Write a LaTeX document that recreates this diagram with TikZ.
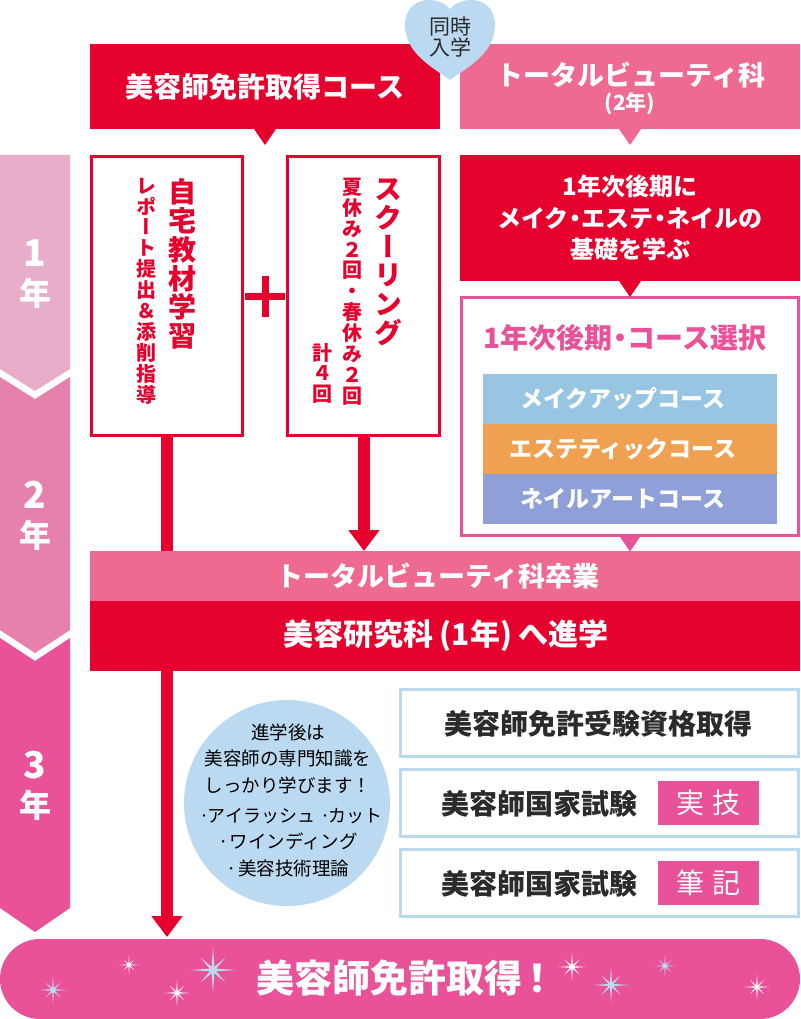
\documentclass[tikz,border=0pt]{standalone}
\usepackage{fontspec}
\usepackage{xcolor}
\usetikzlibrary{positioning,arrows.meta}
\setmainfont{Noto Sans CJK JP}
\newfontfamily\vjp[RawFeature=+vert]{Noto Sans CJK JP}
\definecolor{beniRed}{HTML}{E6002D}
\definecolor{rosePink}{HTML}{EF6A92}
\definecolor{deepPink}{HTML}{E95298}
\definecolor{midPink}{HTML}{E681AE}
\definecolor{palePink}{HTML}{E8AEC9}
\definecolor{skyBlue}{HTML}{BBDAF2}
\definecolor{makeBlue}{HTML}{97C5E2}
\definecolor{estheOrange}{HTML}{EFA050}
\definecolor{nailBlue}{HTML}{8FA0D8}
\definecolor{inkGray}{HTML}{2B2B2B}
\pgfdeclareradialshading{sparkwhite}{\pgfpointorigin}{color(0bp)=(white); color(32bp)=(white); color(50bp)=(deepPink!30!white)}
\pgfdeclareradialshading{sparkblue}{\pgfpointorigin}{color(0bp)=(skyBlue); color(32bp)=(skyBlue); color(50bp)=(deepPink!25!white)}
\newcommand{\fsize}[1]{\fontsize{#1}{#1}\selectfont}
\newcommand{\dotgap}{\kern-.23em・\kern-.23em}
\newcommand{\tail}[2]{\fill[#2] ([xshift=-11pt]#1.south) -- ([xshift=11pt]#1.south) -- ([yshift=-16pt]#1.south) -- cycle;}
\begin{document}
\begin{tikzpicture}[x=1pt,y=-1pt,
  every node/.style={inner sep=0pt, outer sep=0pt, align=center},
  head/.style={minimum height=85pt, text=white, font=\bfseries\fsize{28}},
  redbox/.style={draw=beniRed, line width=3pt, fill=white, minimum width=151pt, minimum height=279pt},
  vtitle/.style={anchor=north, text=beniRed, font={\fontsize{28}{28.7}\selectfont\vjp\bfseries}},
  vsub/.style={anchor=north, text=beniRed, font={\fontsize{20}{20.9}\selectfont\vjp\bfseries}},
  course/.style={minimum width=294pt, minimum height=50pt, text=white, font=\bfseries\fsize{23}},
  band/.style={minimum width=710pt, text=white},
  qualbox/.style={draw=skyBlue, line width=3pt, fill=white, minimum width=398pt, minimum height=67pt},
  qualtext/.style={text=inkGray, font=\bfseries\fsize{28}},
  badge/.style={fill=deepPink, minimum width=101pt, minimum height=44pt, text=white, font=\fsize{28}},
  yearlabel/.style={text=white, font={\fontsize{32}{39}\selectfont\bfseries}},
  thickline/.style={draw=beniRed, line width=12pt, -{Triangle[width=30pt,length=21pt]}},
  plusbar/.style={draw=beniRed, line width=7pt}]
  \useasboundingbox (0,0) rectangle (800,1019);

  \fill[palePink] (0,155) -- (70,155) -- (70,369) -- (35,391) -- (0,369) -- cycle;
  \fill[midPink] (0,377) -- (35,399) -- (70,377) -- (70,630) -- (35,653) -- (0,630) -- cycle;
  \fill[deepPink] (0,638) -- (35,661) -- (70,638) -- (70,908) -- (35,932) -- (0,908) -- cycle;
  \node[yearlabel] (year1) at (35,274) {{\fsize{37}1}\\年};
  \node[yearlabel] (year2) at (35,516) {{\fsize{37}2}\\年};
  \node[yearlabel] (year3) at (35,786) {{\fsize{37}3}\\年};

  \node[head, fill=beniRed, minimum width=350pt] (licenseHead) at (265,86.5) {美容師免許取得コース};
  \node[head, fill=rosePink, minimum width=340pt] (totalHead) at (630,86.5) {};
  \node[text=white, font=\bfseries\fsize{27}] (totalName) at (631,75) {トータルビューティ科};
  \node[text=white, font=\bfseries\fsize{21}] (totalYears) at (630,104) {(2年)};
  \tail{licenseHead}{beniRed}
  \tail{totalHead}{rosePink}

  \fill[skyBlue] (450,80) .. controls (430,66) and (405,52) .. (405,25) .. controls (405,8) and (417,0) .. (428,0) .. controls (438,0) and (446,4) .. (450,9) .. controls (454,4) and (462,0) .. (472,0) .. controls (483,0) and (495,8) .. (495,25) .. controls (495,52) and (470,66) .. (450,80) -- cycle;
  \node[text=inkGray, font={\fontsize{21}{21}\selectfont}] (sameTime) at (450,37.5) {同時\\入学};

  \node[redbox] (homeBox) at (167,296) {};
  \node[redbox, minimum width=152pt] (schoolBox) at (363.5,296) {};
  \node[vtitle] (homeTitle) at (182,179) {自\\宅\\教\\材\\学\\習};
  \node[vsub] (homeSub) at (146,178) {レ\\ポ\\ー\\ト\\提\\出\\＆\\添\\削\\指\\導};
  \node[vtitle] (schoolTitle) at (388,179) {ス\\ク\\ー\\リ\\ン\\グ};
  \node[vsub] (schoolSub) at (352,178) {夏\\休\\み\\２\\回\\・\\春\\休\\み\\２\\回};
  \node[vsub] (schoolTotal) at (322,343) {計\\４\\回};
  \coordinate (plusLeft) at (245,296);
  \coordinate (plusRight) at (285,296);
  \coordinate (plusTop) at (265,276);
  \coordinate (plusBottom) at (265,317);
  \draw[plusbar] (plusLeft) -- (plusRight);
  \draw[plusbar] (plusTop) -- (plusBottom);

  \node[fill=beniRed, minimum width=340pt, minimum height=126pt, text=white, font={\fontsize{24}{31.5}\selectfont\bfseries}] (basicBox) at (630,218) {1年次後期に\\メイク\dotgap エステ\dotgap ネイルの\\基礎を学ぶ};
  \node[draw=deepPink, line width=3pt, fill=white, minimum width=337pt, minimum height=238pt] (choiceBox) at (630,416.5) {};
  \tail{basicBox}{beniRed}
  \tail{choiceBox}{deepPink}
  \node[text=deepPink, font=\bfseries\fsize{28}] (choiceTitle) at (625,338) {1年次後期\dotgap コース選択};
  \node[course, fill=makeBlue] (makeCourse) at (630,399) {\hspace*{-14pt}\raisebox{-1pt}{メイクアップコース}};
  \node[course, fill=estheOrange, below=0pt of makeCourse] (estheCourse) {\hspace*{-14pt}\raisebox{-1pt}{エステティックコース}};
  \node[course, fill=nailBlue, below=0pt of estheCourse] (nailCourse) {\hspace*{-14pt}\raisebox{-1pt}{ネイルアートコース}};

  \node[fill=deepPink, rounded corners=40pt, minimum width=800pt, minimum height=80pt] (finalPill) at (400,979) {};
  \coordinate (pillTop) at (167,937);
  \coordinate (gradTop) at (364,551);
  \draw[thickline] (homeBox) -- (pillTop);
  \draw[thickline] (schoolBox.south -| gradTop) -- (gradTop);

  \node[band, fill=rosePink, minimum height=50pt, font=\bfseries\fsize{27}] (gradBand) at (445,576) {\hspace*{-14pt}トータルビューティ科卒業};
  \node[band, fill=beniRed, minimum height=70pt, font=\bfseries\fsize{30}, below=0pt of gradBand] (advanceBand) {\hspace*{2pt}美容研究科 (1年) へ進学};

  \node[circle, fill=skyBlue, minimum size=206pt] (studyCircle) at (287,803) {};
  \node[text=black, font={\fontsize{18.5}{26.5}\selectfont}] (studyText) at (288,800) {進学後は\\美容師の専門知識を\\しっかり学びます！\\[3.5pt]{\fsize{18}\hspace*{6pt}·\kern-.1emアイラッシュ\hspace{5pt}·\kern-.1emカット}\\·\hspace{1pt}ワインディング\\·\hspace{1pt}美容技術理論};

  \node[qualbox] (qualBox) at (599.5,723) {};
  \node[qualbox] (practicalBox) at (599.5,803) {};
  \node[qualbox] (writtenBox) at (599.5,883) {};
  \node[qualtext] (qualText) at (598.5,724) {美容師免許受験資格取得};
  \node[qualtext] (practicalText) at (539,804) {美容師国家試験};
  \node[qualtext] (writtenText) at (539,884) {美容師国家試験};
  \node[badge] (practicalBadge) at (708.5,803) {実\hspace{8pt}技};
  \node[badge] (writtenBadge) at (708.5,883) {筆\hspace{8pt}記};

  \node[text=white, font=\bfseries\fsize{38}] (finalText) at (406,978) {美容師免許取得\kern-4pt！};
  \foreach \sx/\sy/\sr/\sc in {213/970/23/sparkblue, 53/990/14/sparkblue, 129/965/10/sparkwhite, 177/993/13/sparkwhite, 572/967/14/sparkwhite, 611/985/18/sparkblue, 665/966/11/sparkblue, 757/987/13/sparkwhite}
    \shade[shift={(\sx,\sy)}, shading=\sc] plot[samples at={0,22.5,...,337.5}] (\x:{\sr*(mod(\x,45)==0 ? (mod(\x,90)==0 ? 1 : 0.76) : 0.15)}) -- cycle;
\end{tikzpicture}
\end{document}
